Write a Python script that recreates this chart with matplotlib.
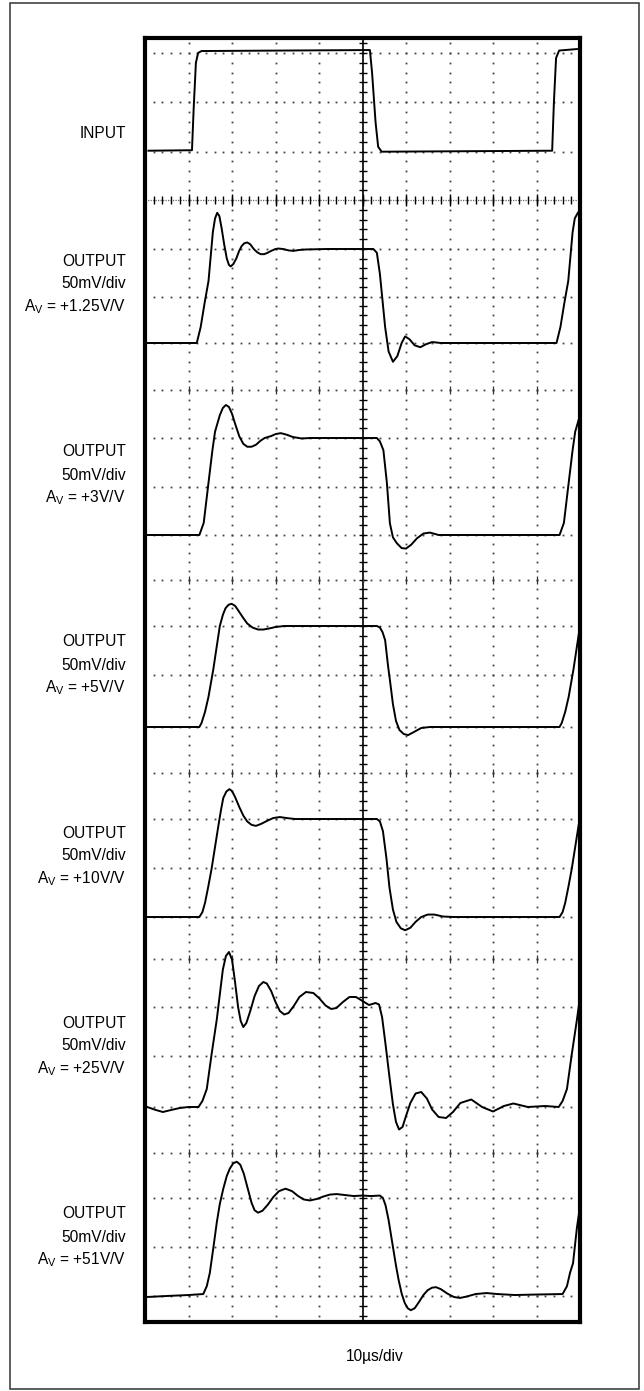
import numpy as np
import matplotlib
matplotlib.use('Agg')
import matplotlib.pyplot as plt
from matplotlib import font_manager
from matplotlib.patches import Rectangle

# pick a condensed sans if we have one
names = {f.name for f in font_manager.fontManager.ttflist}
FONT = 'Liberation Sans Narrow' if 'Liberation Sans Narrow' in names else 'Liberation Sans'
plt.rcParams['font.family'] = [FONT, 'DejaVu Sans']
plt.rcParams['mathtext.fontset'] = 'custom'
plt.rcParams['mathtext.rm'] = FONT

# traces: time in divisions (10us/div), level in divisions above the panel baseline
in_t = [0.08, 1.08, 1.12, 1.17, 1.22, 1.30, 5.17, 5.22, 5.30, 5.36, 5.44, 9.36, 9.40, 9.45, 9.52, 9.93]
in_v = [0.02, 0.03, 0.9, 1.8, 2.0, 2.04, 2.06, 1.6, 0.6, 0.1, 0.0, 0.02, 1.0, 1.9, 2.05, 2.08]

# Av = +1.25
out1_t = [0.05, 1.19, 1.28, 1.37, 1.46, 1.56, 1.61, 1.66, 1.71, 1.76, 1.82, 1.88, 1.93, 1.97, 2.03,
          2.10, 2.16, 2.22, 2.28, 2.35, 2.42, 2.50, 2.58, 2.66, 2.74, 2.82, 2.90, 3.00, 3.07, 3.17,
          3.30, 3.41, 3.55, 3.70, 4.20, 5.25, 5.33, 5.40, 5.52, 5.60, 5.70, 5.80, 5.90, 5.98, 6.08,
          6.20, 6.33, 6.45, 6.60, 6.80, 9.46, 9.55, 9.64, 9.73, 9.83, 9.88, 9.95]
out1_v = [0.0, 0.0, 0.34, 0.85, 1.32, 2.36, 2.65, 2.77, 2.70, 2.45, 2.10, 1.80, 1.66, 1.63, 1.68,
          1.80, 1.95, 2.06, 2.12, 2.14, 2.10, 2.00, 1.93, 1.89, 1.89, 1.92, 1.96, 2.00, 2.01, 2.00,
          1.97, 1.96, 1.98, 1.99, 2.00, 2.00, 1.92, 1.47, 0.34, -0.18, -0.40, -0.28, 0.0, 0.14, 0.08,
          -0.05, -0.09, -0.03, 0.02, 0.0, 0.0, 0.34, 0.85, 1.32, 2.36, 2.65, 2.77]

# Av = +3
out2_t = [0.05, 1.25, 1.35, 1.46, 1.55, 1.61, 1.72, 1.79, 1.86, 1.93, 2.00, 2.08, 2.17, 2.26, 2.35,
          2.45, 2.55, 2.65, 2.75, 2.90, 3.00, 3.12, 3.25, 3.40, 3.60, 3.80, 5.33, 5.40, 5.48, 5.56,
          5.63, 5.70, 5.79, 5.90, 6.00, 6.12, 6.25, 6.40, 6.55, 6.75, 9.53, 9.63, 9.74, 9.83, 9.89, 10.0]
out2_v = [0.0, 0.0, 0.25, 1.08, 1.75, 2.13, 2.47, 2.62, 2.68, 2.64, 2.50, 2.27, 2.03, 1.88, 1.82,
          1.82, 1.86, 1.94, 2.00, 2.04, 2.08, 2.10, 2.07, 2.02, 1.99, 2.00, 2.00, 1.93, 1.75, 1.08,
          0.24, -0.05, -0.17, -0.27, -0.28, -0.20, -0.07, 0.03, 0.05, 0.0, 0.0, 0.25, 1.08, 1.75, 2.13, 2.47]

# Av = +5
out3_t = [0.05, 1.25, 1.30, 1.38, 1.46, 1.57, 1.65, 1.72, 1.79, 1.85, 1.92, 1.99, 2.07, 2.15, 2.25,
          2.35, 2.47, 2.60, 2.72, 2.85, 3.00, 3.20, 3.50, 5.33, 5.40, 5.46, 5.52, 5.59, 5.63, 5.70,
          5.77, 5.85, 5.95, 6.05, 6.18, 6.35, 6.55, 9.53, 9.58, 9.66, 9.74, 9.85, 9.93, 10.0]
out3_v = [0.0, 0.0, 0.08, 0.30, 0.60, 1.14, 1.60, 2.00, 2.22, 2.35, 2.42, 2.44, 2.40, 2.30, 2.17,
          2.05, 1.97, 1.93, 1.93, 1.95, 1.98, 2.00, 2.00, 2.00, 1.97, 1.88, 1.72, 1.19, 0.93, 0.45,
          0.12, -0.06, -0.14, -0.16, -0.10, -0.02, 0.0, 0.0, 0.08, 0.30, 0.60, 1.14, 1.60, 2.00]

# Av = +10
out4_t = [0.05, 1.25, 1.32, 1.38, 1.45, 1.53, 1.61, 1.69, 1.75, 1.80, 1.87, 1.94, 2.00, 2.07, 2.17,
          2.26, 2.35, 2.45, 2.55, 2.67, 2.80, 2.95, 3.10, 3.25, 3.45, 3.80, 5.33, 5.40, 5.47, 5.55,
          5.62, 5.70, 5.78, 5.88, 5.98, 6.10, 6.22, 6.35, 6.50, 6.65, 6.85, 7.10, 9.53, 9.60, 9.66,
          9.73, 9.81, 9.89, 9.97, 10.0]
out4_v = [0.0, 0.0, 0.10, 0.29, 0.60, 0.98, 1.43, 1.88, 2.20, 2.43, 2.56, 2.61, 2.57, 2.45, 2.24,
          2.07, 1.95, 1.88, 1.86, 1.90, 1.96, 2.02, 2.04, 2.02, 2.00, 2.00, 2.00, 1.95, 1.75, 1.20,
          0.60, 0.15, -0.10, -0.23, -0.27, -0.22, -0.10, 0.0, 0.05, 0.05, 0.01, 0.0, 0.0, 0.10, 0.29,
          0.60, 0.98, 1.43, 1.88, 2.00]

# Av = +25
out5_t = [0.05, 0.25, 0.41, 0.60, 0.80, 1.00, 1.23, 1.32, 1.42, 1.53, 1.65, 1.72, 1.79, 1.86, 1.93,
          2.00, 2.07, 2.14, 2.20, 2.26, 2.33, 2.42, 2.52, 2.62, 2.72, 2.80, 2.90, 3.00, 3.10, 3.20,
          3.30, 3.42, 3.55, 3.70, 3.87, 4.00, 4.15, 4.28, 4.40, 4.55, 4.70, 4.85, 5.00, 5.15, 5.30,
          5.38, 5.45, 5.53, 5.62, 5.70, 5.77, 5.84, 5.92, 6.00, 6.10, 6.22, 6.35, 6.48, 6.60, 6.75,
          6.92, 7.08, 7.25, 7.50, 7.75, 8.00, 8.25, 8.47, 8.80, 9.20, 9.51, 9.60, 9.70, 9.81, 9.93, 10.0]
out5_v = [0.0, -0.06, -0.10, -0.06, -0.02, 0.0, 0.0, 0.12, 0.36, 1.05, 1.75, 2.25, 2.75, 3.02, 3.10,
          2.95, 2.50, 2.00, 1.72, 1.60, 1.68, 1.92, 2.22, 2.42, 2.50, 2.47, 2.32, 2.10, 1.92, 1.85,
          1.88, 2.02, 2.20, 2.30, 2.28, 2.18, 2.03, 1.96, 1.98, 2.10, 2.20, 2.20, 2.12, 2.04, 2.08,
          2.05, 1.80, 1.25, 0.60, 0.05, -0.30, -0.45, -0.40, -0.18, 0.08, 0.27, 0.30, 0.17, -0.05, -0.20,
          -0.22, -0.10, 0.08, 0.15, 0.0, -0.09, 0.02, 0.07, 0.0, 0.02, 0.0, 0.12, 0.36, 1.05, 1.75, 2.20]

# Av = +51
out6_t = [0.05, 0.50, 1.00, 1.34, 1.42, 1.49, 1.58, 1.65, 1.72, 1.80, 1.88, 1.95, 2.03, 2.11, 2.19,
          2.27, 2.36, 2.45, 2.52, 2.60, 2.70, 2.82, 2.95, 3.08, 3.23, 3.38, 3.52, 3.65, 3.79, 3.95,
          4.10, 4.25, 4.41, 4.60, 4.80, 5.00, 5.20, 5.40, 5.47, 5.53, 5.60, 5.70, 5.77, 5.83, 5.90,
          5.97, 6.04, 6.11, 6.20, 6.30, 6.40, 6.50, 6.60, 6.69, 6.80, 6.95, 7.10, 7.24, 7.40, 7.60,
          7.85, 8.10, 8.50, 9.00, 9.60, 9.70, 9.77, 9.84, 9.93, 10.0]
out6_v = [-0.02, 0.0, 0.02, 0.04, 0.20, 0.47, 1.04, 1.50, 1.88, 2.19, 2.45, 2.60, 2.71, 2.74, 2.68,
          2.50, 2.20, 1.90, 1.75, 1.70, 1.74, 1.86, 2.02, 2.14, 2.19, 2.14, 2.04, 1.97, 1.95, 1.98,
          2.03, 2.07, 2.08, 2.06, 2.04, 2.05, 2.04, 2.05, 2.00, 1.85, 1.55, 1.00, 0.62, 0.33, 0.05,
          -0.14, -0.25, -0.29, -0.25, -0.12, 0.02, 0.12, 0.17, 0.18, 0.14, 0.05, -0.02, -0.04, -0.01, 0.04,
          0.06, 0.04, 0.02, 0.03, 0.04, 0.20, 0.47, 0.67, 1.40, 1.82]

gains = ['+1.25V/V', '+3V/V', '+5V/V', '+10V/V', '+25V/V', '+51V/V']
outputs = [(out1_t, out1_v), (out2_t, out2_v), (out3_t, out3_v),
           (out4_t, out4_v), (out5_t, out5_v), (out6_t, out6_v)]

# layout in pixels (the screen is stitched from strips, so rows are not quite even)
W, H = 644, 1391
GRID_Y = [53, 102, 151.7, 200, 249, 297, 343, 390, 438, 487, 535, 580, 626, 675, 727,
          773, 819, 868, 917, 959, 1007, 1056, 1107, 1153, 1198, 1247, 1296]
TICK_ROW = 200
JOIN_ROWS = [390, 580, 773, 959, 1153]
IN_PANEL = (151.7, 53)               # baseline, high level
OUT_PANELS = [(343, 249), (535, 438), (727, 626), (917, 819), (1107, 1007), (1296, 1198)]
LABEL_MID = [284, 475, 665, 856, 1046, 1237]

fig = plt.figure(figsize=(W / 100, H / 100), dpi=100)

# outer box
fig.patches.append(Rectangle((9.5 / W, 1 - 1389 / H), 629 / W, 1386 / H, transform=fig.transFigure,
                             fill=False, lw=1.1, ec='#333333'))

ax = fig.add_axes([145 / W, 1 - 1322 / H, 435 / W, 1284 / H])
ax.set_xlim(0, 10)
ax.set_ylim(1322, 38)
ax.set_xticks([])
ax.set_yticks([])
for s in ax.spines.values():
    s.set_linewidth(3)

# vertical dot positions: fifths of each row, carried on past the first and last rows
gy = np.array(GRID_Y)
ys = [gy[0] - d * (gy[1] - gy[0]) / 5 for d in (1, 2, 3)][::-1]
for a, b in zip(gy[:-1], gy[1:]):
    ys += list(a + (b - a) * np.arange(5) / 5)
ys += [gy[-1] + d * (gy[-1] - gy[-2]) / 5 for d in (0, 1, 2)]
ys = np.array(ys)

# dotted graticule
xs = np.arange(0, 10.001, 0.2)
for y in GRID_Y:
    if y == TICK_ROW:
        continue
    ax.plot(xs, np.full_like(xs, y), ls='none', marker='s', ms=1.3, mew=0, color='#444444')
for j in range(1, 10):
    if j == 5:
        continue
    ax.plot(np.full_like(ys, j), ys, ls='none', marker='s', ms=1.3, mew=0, color='#444444')

# centre axes with minor ticks
ax.axvline(5, color='black', lw=1.2)
ax.plot(np.full_like(ys, 5), ys, ls='none', marker='_', ms=6, mew=1.0, color='black')
ax.axhline(TICK_ROW, color='#666666', lw=0.9, ls=(0, (1, 1)))
ax.plot(xs, np.full_like(xs, TICK_ROW), ls='none', marker='|', ms=6, mew=1.0, color='black')
ax.plot(np.arange(1, 10), np.full(9, TICK_ROW), ls='none', marker='|', ms=9, mew=1.0, color='black')

# strip joins carry short marks at each division
for y in JOIN_ROWS:
    ax.plot(np.arange(1, 10), np.full(9, y), ls='none', marker='|', ms=6, mew=0.9, color='#333333')

# traces
base, top = IN_PANEL
ax.plot(in_t, base - np.array(in_v) * (base - top) / 2, color='black', lw=1.4)
for (t, v), (base, settle) in zip(outputs, OUT_PANELS):
    ax.plot(t, base - np.array(v) * (base - settle) / 2, color='black', lw=1.4,
            solid_joinstyle='round')

# labels
tx = -0.44
fs = 11.2
ax.text(tx, 133, 'INPUT', ha='right', va='center', fontsize=fs, clip_on=False)
for g, mid in zip(gains, LABEL_MID):
    ax.text(tx, mid - 23, 'OUTPUT', ha='right', va='center', fontsize=fs, clip_on=False)
    ax.text(tx, mid, '50mV/div', ha='right', va='center', fontsize=fs, clip_on=False)
    ax.text(tx, mid + 23, r'A$_\mathrm{V}$ = ' + g, ha='right', va='center', fontsize=fs,
            clip_on=False)

fig.text(375 / W, 1 - 1357 / H, '10\u00b5s/div', ha='center', va='center', fontsize=fs)

fig.savefig('out.png', dpi=100)
